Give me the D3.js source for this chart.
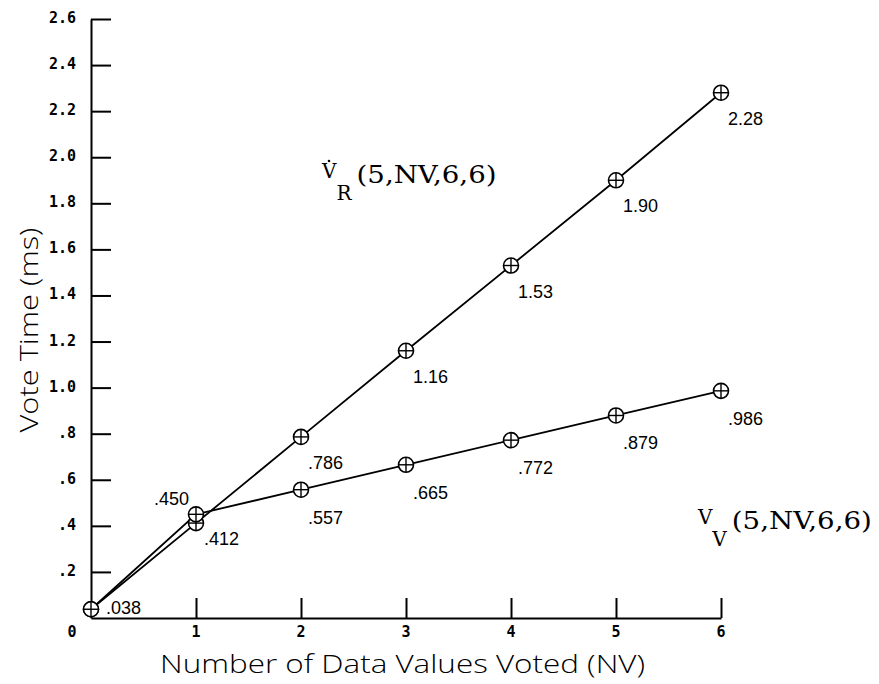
<!DOCTYPE html>
<html>
<head>
<meta charset="utf-8">
<script src="https://cdn.jsdelivr.net/npm/d3@7"></script>
<style>
  html, body { margin: 0; padding: 0; background: #fff; }
  svg { display: block; }
</style>
</head>
<body>
<svg id="chart" width="879" height="684"></svg>
<script>
// ---- data ----
const nvValues = [0, 1, 2, 3, 4, 5, 6];
const vrValues = [0.038, 0.412, 0.786, 1.16, 1.53, 1.90, 2.28];
const vvValues = [0.038, 0.450, 0.557, 0.665, 0.772, 0.879, 0.986];
const vrLabels = [".038", ".412", ".786", "1.16", "1.53", "1.90", "2.28"];
const vvLabels = [".038", ".450", ".557", ".665", ".772", ".879", ".986"];
const xTickValues = [1, 2, 3, 4, 5, 6];
const xTickLabels = ["1", "2", "3", "4", "5", "6"];
const yTickValues = [0.2, 0.4, 0.6, 0.8, 1.0, 1.2, 1.4, 1.6, 1.8, 2.0, 2.2, 2.4, 2.6];
const yTickLabels = [".2", ".4", ".6", ".8", "1.0", "1.2", "1.4", "1.6", "1.8", "2.0", "2.2", "2.4", "2.6"];
const xTitle = "Number of Data Values Voted (NV)";
const yTitle = "Vote Time (ms)";
const vrName = { main: "V", sub: "R", args: "(5,NV,6,6)", at: [2.2, 1.91] };
const vvName = { main: "V", sub: "V", args: "(5,NV,6,6)", at: [5.78, 0.41] };

// ---- layout ----
const svg = d3.select("#chart");
const x = d3.scaleLinear().domain([0, 6]).range([91, 721]);
const y = d3.scaleLinear().domain([0, 2.6]).range([618, 19]);

const tickFont = "'DejaVu Sans Mono', 'Liberation Mono', monospace";
const valFont = "'Liberation Sans', Arial, sans-serif";
const titleFont = "'Open Sans', 'DejaVu Sans', sans-serif";
const nameFont = "'DejaVu Serif', 'Liberation Serif', serif";

// x axis
const xAxis = d3.axisBottom(x).tickValues(xTickValues).tickSizeInner(-20).tickSizeOuter(0).tickFormat(() => "");
const gx = svg.append("g").attr("transform", `translate(0,${y(0)})`).call(xAxis);
gx.select(".domain").attr("stroke", "#000").attr("stroke-width", 2);
gx.selectAll(".tick line").attr("stroke", "#000").attr("stroke-width", 2);

// y axis
const yAxis = d3.axisLeft(y).tickValues(yTickValues).tickSizeInner(-20).tickSizeOuter(0).tickFormat(() => "");
const gy = svg.append("g").attr("transform", `translate(${x(0)},0)`).call(yAxis);
gy.select(".domain").attr("stroke", "#000").attr("stroke-width", 2);
gy.selectAll(".tick line").attr("stroke", "#000").attr("stroke-width", 2);

// tick labels
svg.append("g").selectAll("text").data(xTickValues).join("text")
  .attr("x", d => x(d)).attr("y", y(0) + 19)
  .attr("text-anchor", "middle")
  .attr("font-family", tickFont).attr("font-weight", "bold").attr("font-size", 15)
  .text((d, i) => xTickLabels[i]);
svg.append("text")
  .attr("x", x(0) - 19).attr("y", y(0) + 19)
  .attr("text-anchor", "middle")
  .attr("font-family", tickFont).attr("font-weight", "bold").attr("font-size", 15)
  .text("0");
svg.append("g").selectAll("text").data(yTickValues).join("text")
  .attr("x", x(0) - 15).attr("y", d => y(d) + 4)
  .attr("text-anchor", "end")
  .attr("font-family", tickFont).attr("font-weight", "bold").attr("font-size", 15)
  .text((d, i) => yTickLabels[i]);

// axis titles
svg.append("text")
  .attr("x", 160).attr("y", 673)
  .attr("textLength", 485).attr("lengthAdjust", "spacingAndGlyphs")
  .attr("font-family", titleFont).attr("font-weight", 300).attr("font-size", 26)
  .text(xTitle);
svg.append("text")
  .attr("transform", `translate(38,${y(1.25)}) rotate(-90)`)
  .attr("text-anchor", "middle")
  .attr("textLength", 205).attr("lengthAdjust", "spacingAndGlyphs")
  .attr("font-family", titleFont).attr("font-weight", 300).attr("font-size", 26)
  .text(yTitle);

// lines
const line = d3.line().x((d, i) => x(nvValues[i])).y(d => y(d));
[vrValues, vvValues].forEach(vals => {
  svg.append("path").datum(vals).attr("d", line)
    .attr("fill", "none").attr("stroke", "#000").attr("stroke-width", 1.8);
});

// markers
function markers(vals) {
  const g = svg.append("g");
  const m = g.selectAll("g").data(vals).join("g")
    .attr("transform", (d, i) => `translate(${x(nvValues[i])},${y(d)})`);
  m.append("circle").attr("r", 7.5).attr("fill", "#fff").attr("stroke", "#000").attr("stroke-width", 1.6);
  m.append("line").attr("x1", -7.5).attr("x2", 7.5).attr("stroke", "#000").attr("stroke-width", 1.4);
  m.append("line").attr("y1", -7.5).attr("y2", 7.5).attr("stroke", "#000").attr("stroke-width", 1.4);
}
markers(vrValues);
markers(vvValues);

// value labels
function valLabels(vals, labels, series) {
  const items = vals.map((v, i) => ({ v, i, label: labels[i] }))
    .filter(d => !(series === "vv" && d.i === 0));
  svg.append("g").selectAll("text").data(items).join("text")
    .attr("x", d => {
      const px = x(nvValues[d.i]);
      if (d.i === 0) return px + 15;
      if (d.i === 1) return series === "vv" ? px - 7 : px + 8;
      return px + 7;
    })
    .attr("y", d => {
      const py = y(d.v);
      if (d.i === 0) return py + 5;
      if (d.i === 1) return series === "vv" ? py - 9 : py + 22;
      return series === "vv" ? py + 34 : py + 32;
    })
    .attr("text-anchor", d => (series === "vv" && d.i === 1) ? "end" : "start")
    .attr("font-family", valFont).attr("font-size", 18)
    .text(d => d.label);
}
valLabels(vrValues, vrLabels, "vr");
valLabels(vvValues, vvLabels, "vv");

// series names
function seriesName(n, dotted) {
  const px = x(n.at[0]), py = y(n.at[1]);
  const t = svg.append("text").attr("x", px).attr("y", py)
    .attr("font-family", nameFont).attr("fill", "#000");
  t.append("tspan").attr("font-size", 20).text(n.main);
  t.append("tspan").attr("font-size", 20).attr("dy", 22).attr("dx", 0).text(n.sub);
  t.append("tspan").attr("font-size", 25).attr("dy", -17).attr("dx", 5)
    .attr("textLength", 140).attr("lengthAdjust", "spacingAndGlyphs").text(n.args);
  if (dotted) {
    svg.append("circle").attr("cx", px + 7).attr("cy", py - 17).attr("r", 1.3).attr("fill", "#000");
  }
}
seriesName(vrName, true);
seriesName(vvName, false);
</script>
</body>
</html>
